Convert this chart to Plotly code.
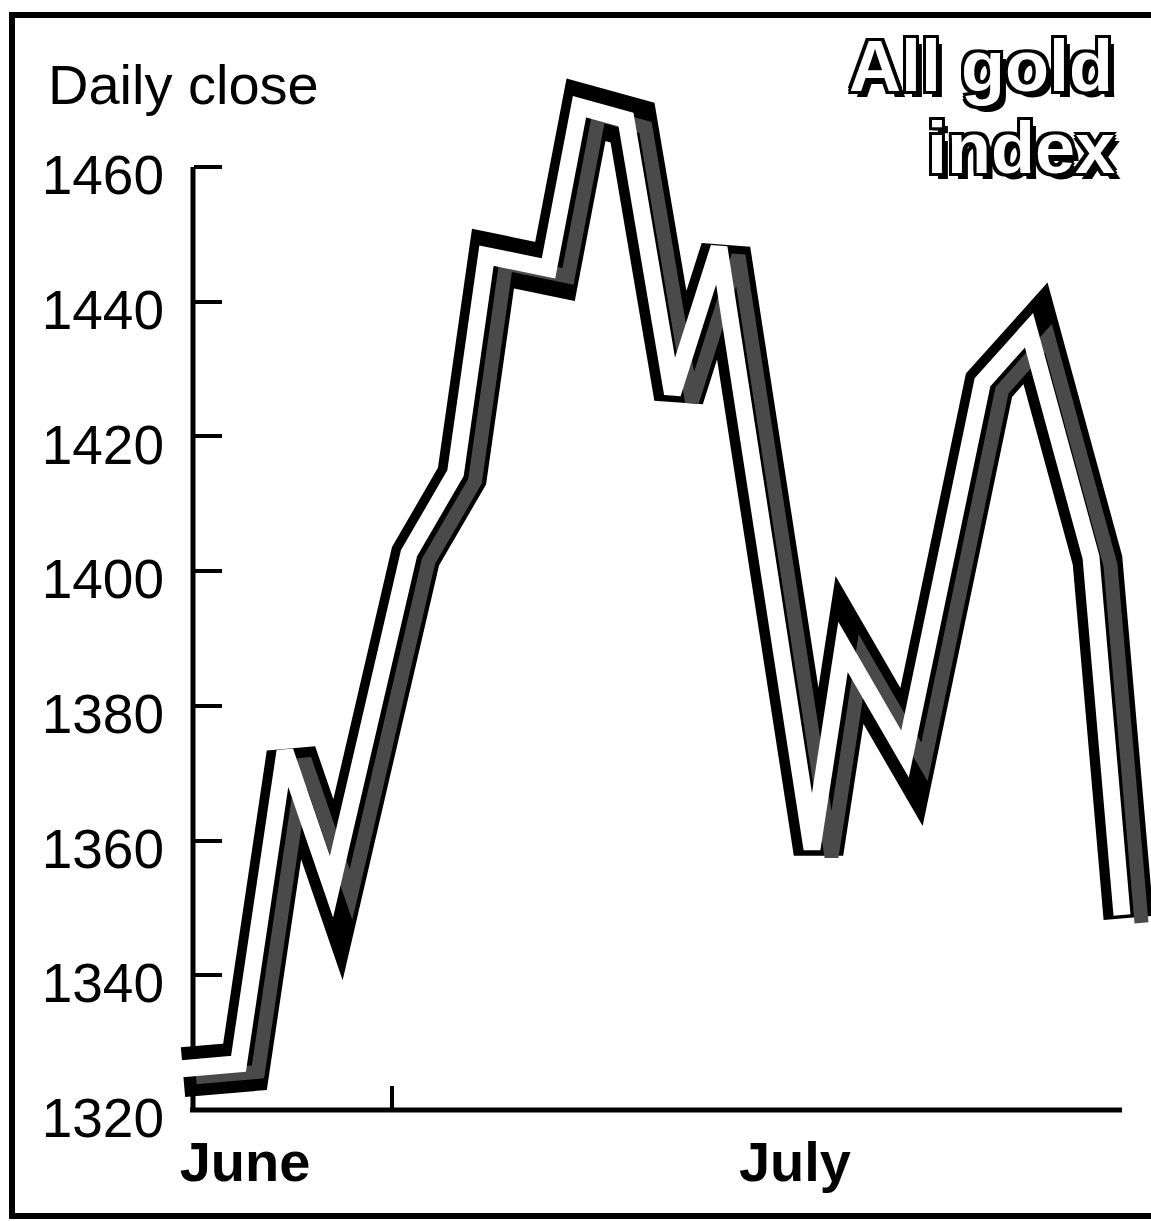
import plotly.graph_objects as go
import pandas as pd

# ---------------- data ----------------
dates = ["1993-05-28", "1993-06-01", "1993-06-04", "1993-06-07", "1993-06-12",
         "1993-06-15", "1993-06-17", "1993-06-21", "1993-06-23", "1993-06-26",
         "1993-06-29", "1993-07-02", "1993-07-08", "1993-07-10", "1993-07-14",
         "1993-07-19", "1993-07-22", "1993-07-26", "1993-07-28"]
close = [1325.6, 1326.4, 1372.8, 1352.7, 1402.2,
         1414.1, 1446.4, 1444.5, 1468.5, 1466.6,
         1425.9, 1447.6, 1358.3, 1388.3, 1372.4,
         1427.6, 1435.3, 1401.6, 1348.5]

y_ticks = [1320, 1340, 1360, 1380, 1400, 1420, 1440, 1460]
y_tick_text = [str(v) for v in y_ticks]
month_labels = ["June", "July"]
month_label_dates = ["1993-06-01", "1993-07-06 11:30"]
week_tick_dates = ["1993-06-10 12:00"]

# ---------------- geometry ----------------
W, H = 1151, 1221
FONT = "Liberation Sans, Arial, Helvetica, sans-serif"

day0 = pd.Timestamp(dates[0])
PX_PER_DAY = 15.5
X0_PX = 183                 # pixel of first date
PLOT_L, PLOT_R = 170, 1151
PLOT_T, PLOT_B = 40, 1150
Y_TOP_TICK_PX, Y_PX_PER_UNIT = 167, 6.735
YAXIS_PX, XAXIS_PX = 193, 1110


def d2s(d):
    return (day0 + pd.Timedelta(days=d)).strftime("%Y-%m-%d %H:%M:%S.%f")


xr_days = [(PLOT_L - X0_PX) / PX_PER_DAY, (PLOT_R - X0_PX) / PX_PER_DAY]
yr = [1460 - (PLOT_B - Y_TOP_TICK_PX) / Y_PX_PER_UNIT,
      1460 + (Y_TOP_TICK_PX - PLOT_T) / Y_PX_PER_UNIT]


def xrange_shift(dx):
    return [d2s(xr_days[0] - dx / PX_PER_DAY), d2s(xr_days[1] - dx / PX_PER_DAY)]


def yrange_shift(dy):
    return [yr[0] + dy / Y_PX_PER_UNIT, yr[1] + dy / Y_PX_PER_UNIT]


fig = go.Figure()
# black body of the ribbon
fig.add_trace(go.Scatter(x=dates, y=close, mode="lines",
                         line=dict(color="black", width=50),
                         xaxis="x", yaxis="y", hoverinfo="skip"))
# shaded (stippled) lower/right side
fig.add_trace(go.Scatter(x=dates, y=close, mode="lines",
                         line=dict(color="#4a4a4a", width=14),
                         xaxis="x2", yaxis="y2", hoverinfo="skip"))
# white face
fig.add_trace(go.Scatter(x=dates, y=close, mode="lines",
                         line=dict(color="white", width=17),
                         xaxis="x3", yaxis="y3", hoverinfo="skip"))

xdom = [PLOT_L / W, PLOT_R / W]
ydom = [1 - PLOT_B / H, 1 - PLOT_T / H]

fig.update_layout(
    width=W, height=H,
    margin=dict(l=0, r=0, t=0, b=0),
    paper_bgcolor="white", plot_bgcolor="white",
    showlegend=False,
    font=dict(family=FONT, color="black"),
    xaxis=dict(type="date", domain=xdom, range=xrange_shift(0),
               anchor="free", position=1 - XAXIS_PX / H,
               showline=False, showgrid=False, zeroline=False,
               ticks="", tickvals=month_label_dates, ticktext=month_labels,
               tickfont=dict(family=FONT, size=56, color="black", weight=700),
               ticklabelstandoff=14,
               minor=dict(tickvals=week_tick_dates, ticks="inside", ticklen=24,
                          tickwidth=4, tickcolor="black", showgrid=False)),
    yaxis=dict(domain=ydom, range=yr, anchor="free", position=YAXIS_PX / W,
               showline=False, showgrid=False, zeroline=False,
               ticks="inside", ticklen=28, tickwidth=4, tickcolor="black",
               tickvals=y_ticks, ticktext=y_tick_text,
               tickfont=dict(family=FONT, size=55, color="black"),
               ticklabelstandoff=29, ticklabelshift=8),
    xaxis2=dict(type="date", overlaying="x", visible=False, range=xrange_shift(13)),
    yaxis2=dict(overlaying="y", visible=False, range=yrange_shift(5)),
    xaxis3=dict(type="date", overlaying="x", visible=False, range=xrange_shift(-6.5)),
    yaxis3=dict(overlaying="y", visible=False, range=yrange_shift(-3)),
)

# axis lines, frame
fig.add_shape(type="line", xref="paper", yref="y", x0=YAXIS_PX / W, x1=YAXIS_PX / W,
              y0=1320, y1=1460, line=dict(color="black", width=5), layer="below")
fig.add_shape(type="line", xref="paper", yref="paper", x0=190 / W, x1=1122 / W,
              y0=1 - XAXIS_PX / H, y1=1 - XAXIS_PX / H,
              line=dict(color="black", width=5), layer="below")
fig.add_shape(type="rect", xref="paper", yref="paper", x0=12 / W, x1=1.05,
              y0=1 - 1216 / H, y1=1 - 15 / H,
              line=dict(color="black", width=6), layer="below")

outline = ("-3px -3px 0 #000, 3px -3px 0 #000, -3px 3px 0 #000, 3px 3px 0 #000, "
           "0 3px 0 #000, 3px 0 0 #000, 0 -3px 0 #000, -3px 0 0 #000, 6px 6px 0 #000")

fig.add_annotation(text="Daily close", xref="paper", yref="paper",
                   x=46 / W, y=1 - 84 / H, xanchor="left", yanchor="middle",
                   showarrow=False, font=dict(family=FONT, size=56, color="black"))
fig.add_annotation(text="All gold", xref="paper", yref="paper",
                   x=1114 / W, y=1 - 66 / H, xanchor="right", yanchor="middle",
                   showarrow=False, borderpad=0,
                   font=dict(family=FONT, size=72, color="white", weight=700, shadow=outline))
fig.add_annotation(text="index", xref="paper", yref="paper",
                   x=1116 / W, y=1 - 148 / H, xanchor="right", yanchor="middle",
                   showarrow=False, borderpad=0,
                   font=dict(family=FONT, size=72, color="white", weight=700, shadow=outline))

post = ("document.body.style.margin='0';"
        "document.querySelectorAll('.js-line').forEach(function(p){"
        "p.style.strokeMiterlimit='3.8';});")
fig.write_html("out.html", post_script=post, config={"displayModeBar": False})
